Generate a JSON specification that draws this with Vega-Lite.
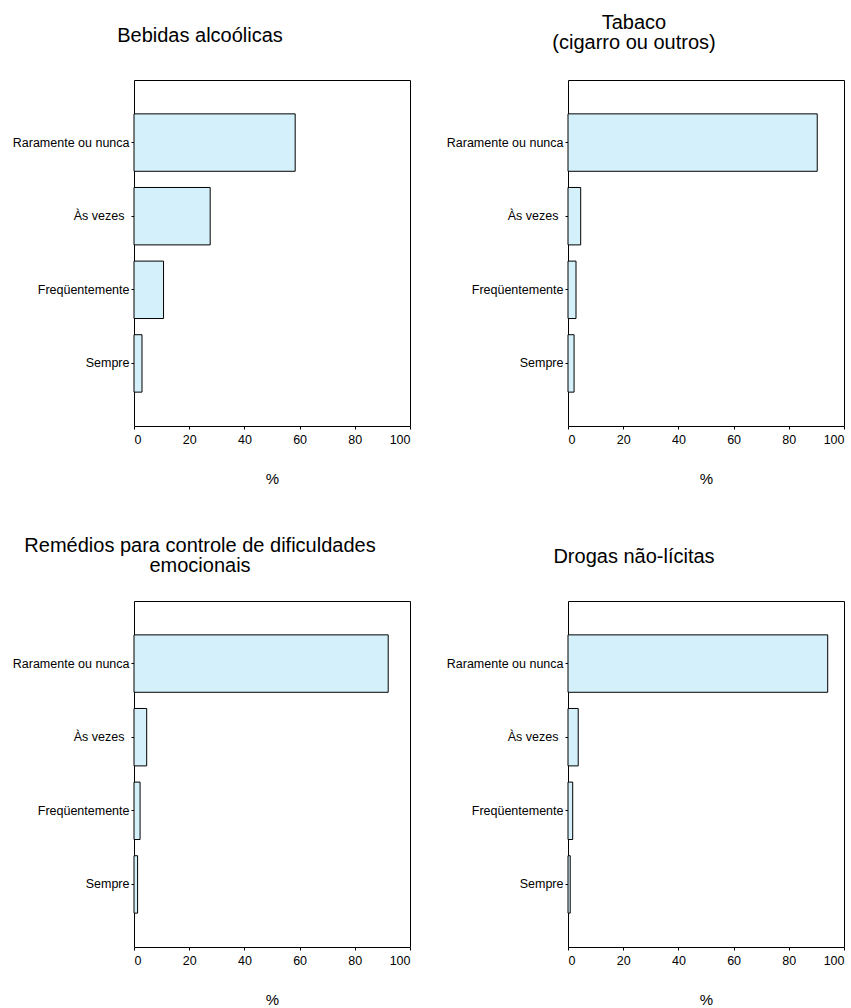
{
  "$schema": "https://vega.github.io/schema/vega-lite/v6.json",
  "padding": {"left": 11, "top": 12, "right": 0, "bottom": 0},
  "background": "white",
  "data": {"values": [
    {"substancia": "Bebidas alcoólicas", "freq": "Raramente ou nunca", "pct": 58.4},
    {"substancia": "Bebidas alcoólicas", "freq": "Às vezes", "pct": 27.6},
    {"substancia": "Bebidas alcoólicas", "freq": "Freqüentemente", "pct": 10.7},
    {"substancia": "Bebidas alcoólicas", "freq": "Sempre", "pct": 2.9},
    {"substancia": "Tabaco", "freq": "Raramente ou nunca", "pct": 90.3},
    {"substancia": "Tabaco", "freq": "Às vezes", "pct": 4.6},
    {"substancia": "Tabaco", "freq": "Freqüentemente", "pct": 2.9},
    {"substancia": "Tabaco", "freq": "Sempre", "pct": 2.2},
    {"substancia": "Remédios", "freq": "Raramente ou nunca", "pct": 92.1},
    {"substancia": "Remédios", "freq": "Às vezes", "pct": 4.6},
    {"substancia": "Remédios", "freq": "Freqüentemente", "pct": 2.2},
    {"substancia": "Remédios", "freq": "Sempre", "pct": 1.3},
    {"substancia": "Drogas", "freq": "Raramente ou nunca", "pct": 94.1},
    {"substancia": "Drogas", "freq": "Às vezes", "pct": 3.7},
    {"substancia": "Drogas", "freq": "Freqüentemente", "pct": 1.7},
    {"substancia": "Drogas", "freq": "Sempre", "pct": 0.8}
  ]},
  "config": {
    "font": "Liberation Sans",
    "view": {"stroke": "#000", "strokeWidth": 1},
    "axis": {"domain": false, "grid": false, "ticks": true, "tickColor": "#000", "tickSize": 3, "labelColor": "#000", "labelFontSize": 12.5, "labelFont": "Liberation Sans", "titleFont": "Liberation Sans", "titleFontWeight": "normal", "titleFontSize": 15, "titleColor": "#000"},
    "axisY": {"labelPadding": {"condition": {"test": "datum.value == 'Às vezes'", "value": 7}, "value": 2}},
    "axisX": {"labelPadding": 4, "titlePadding": 26},
    "title": {"fontSize": 20, "fontWeight": "normal", "color": "#000", "anchor": "middle", "frame": "group", "dx": -72, "lineHeight": 20, "font": "Liberation Sans"}
  },
  "spacing": 48,
  "vconcat": [
    {"hconcat": [
      {"title": {"text": "Bebidas alcoólicas", "offset": 34},
       "width": 276, "height": 346,
       "transform": [{"filter": "datum.substancia == 'Bebidas alcoólicas'"}],
       "mark": {"type": "bar", "fill": "#d4f1fb", "stroke": "#000", "strokeWidth": 1},
       "encoding": {
         "y": {"field": "freq", "type": "nominal", "sort": ["Raramente ou nunca", "Às vezes", "Freqüentemente", "Sempre"], "scale": {"paddingInner": 0.22, "paddingOuter": 0.46}, "axis": {"title": null}},
         "x": {"field": "pct", "type": "quantitative", "scale": {"domain": [0, 100], "nice": false}, "axis": {"values": [0, 20, 40, 60, 80, 100], "title": "%"}}
       }},
      {"title": {"text": ["Tabaco", "(cigarro ou outros)"], "offset": 27},
       "width": 276, "height": 346,
       "transform": [{"filter": "datum.substancia == 'Tabaco'"}],
       "mark": {"type": "bar", "fill": "#d4f1fb", "stroke": "#000", "strokeWidth": 1},
       "encoding": {
         "y": {"field": "freq", "type": "nominal", "sort": ["Raramente ou nunca", "Às vezes", "Freqüentemente", "Sempre"], "scale": {"paddingInner": 0.22, "paddingOuter": 0.46}, "axis": {"title": null}},
         "x": {"field": "pct", "type": "quantitative", "scale": {"domain": [0, 100], "nice": false}, "axis": {"values": [0, 20, 40, 60, 80, 100], "title": "%"}}
       }}
    ], "spacing": 34},
    {"hconcat": [
      {"title": {"text": ["Remédios para controle de dificuldades", "emocionais"], "offset": 25},
       "width": 276, "height": 346,
       "transform": [{"filter": "datum.substancia == 'Remédios'"}],
       "mark": {"type": "bar", "fill": "#d4f1fb", "stroke": "#000", "strokeWidth": 1},
       "encoding": {
         "y": {"field": "freq", "type": "nominal", "sort": ["Raramente ou nunca", "Às vezes", "Freqüentemente", "Sempre"], "scale": {"paddingInner": 0.22, "paddingOuter": 0.46}, "axis": {"title": null}},
         "x": {"field": "pct", "type": "quantitative", "scale": {"domain": [0, 100], "nice": false}, "axis": {"values": [0, 20, 40, 60, 80, 100], "title": "%"}}
       }},
      {"title": {"text": "Drogas não-lícitas", "offset": 34},
       "width": 276, "height": 346,
       "transform": [{"filter": "datum.substancia == 'Drogas'"}],
       "mark": {"type": "bar", "fill": "#d4f1fb", "stroke": "#000", "strokeWidth": 1},
       "encoding": {
         "y": {"field": "freq", "type": "nominal", "sort": ["Raramente ou nunca", "Às vezes", "Freqüentemente", "Sempre"], "scale": {"paddingInner": 0.22, "paddingOuter": 0.46}, "axis": {"title": null}},
         "x": {"field": "pct", "type": "quantitative", "scale": {"domain": [0, 100], "nice": false}, "axis": {"values": [0, 20, 40, 60, 80, 100], "title": "%"}}
       }}
    ], "spacing": 34}
  ]
}
